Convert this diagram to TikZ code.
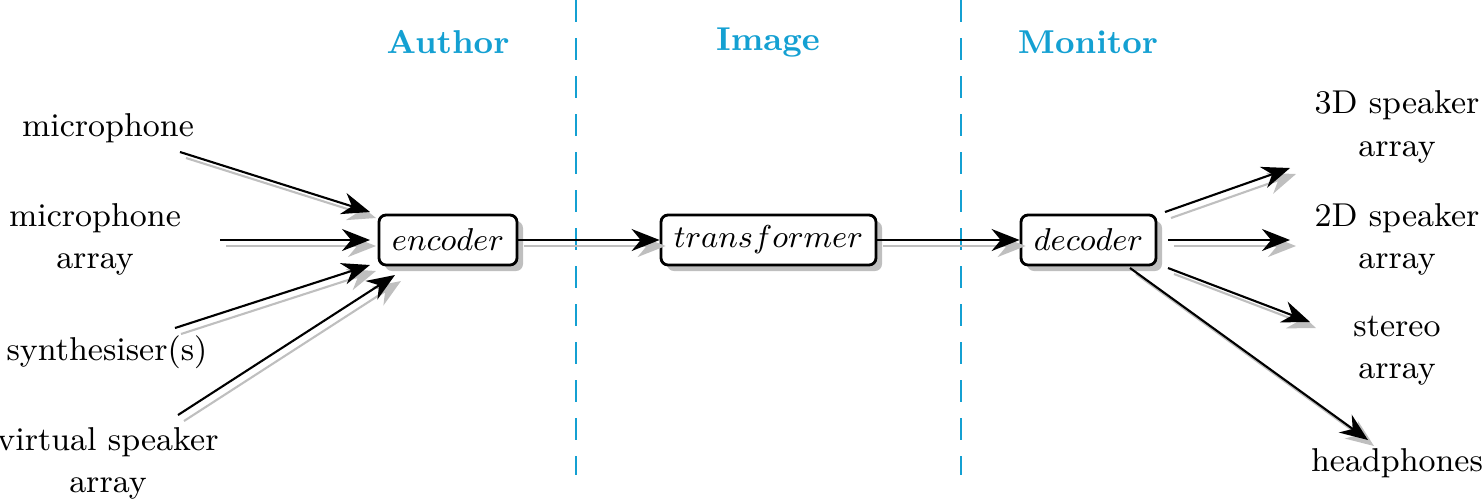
\documentclass[tikz,border=0pt]{standalone}
\usetikzlibrary{arrows.meta,shadows}
\definecolor{headcol}{RGB}{20,160,210}
\tikzset{
  every node/.style={font=\fontsize{9.4}{12}\selectfont},
  stage/.style={draw, thick, rounded corners=2pt, fill=white, minimum width=1.38cm, minimum height=0.5cm, inner sep=2pt,
    drop shadow={shadow xshift=0.6mm, shadow yshift=-0.6mm, fill=black!25, opacity=1}},
  flow/.style={-{Stealth[length=2.8mm,width=2.2mm]}, semithick,
    preaction={draw, black!25, semithick, transform canvas={shift={(0.6mm,-0.6mm)}}}},
  divider/.style={headcol, thick, dash pattern=on 2.2mm off 1.6mm},
  head/.style={headcol, font=\fontsize{9.4}{12}\selectfont\bfseries}
}
\begin{document}
\begin{tikzpicture}
  \useasboundingbox (0,0) rectangle (14.84,5.01);
  \draw[divider] (5.76,5.01) -- (5.76,0.26);
  \draw[divider] (9.61,5.01) -- (9.61,0.26);
  \node[head] at (4.48,4.59) {Author};
  \node[head] at (7.68,4.59) {Image};
  \node[head] at (10.88,4.59) {Monitor};
  % blocks
  \node[stage] (enc) at (4.48,2.61) {$encoder$};
  \node[stage, minimum width=2.15cm] (tra) at (7.685,2.61) {$transformer$};
  \node[stage, minimum width=1.35cm] (dec) at (10.885,2.61) {$decoder$};
  % sources
  \node (mic) at (1.08,3.73) {microphone};
  \node[align=center] (arr) at (0.95,2.62) {microphone\\array};
  \node (syn) at (1.07,1.49) {synthesiser(s)};
  \node[align=center] (vsa) at (1.08,0.38) {virtual speaker\\array};
  \coordinate (mic s) at (1.80,3.49);
  \coordinate (arr s) at (2.20,2.61);
  \coordinate (syn s) at (1.75,1.73);
  \coordinate (vsa s) at (1.78,0.86);
  \draw[flow] (mic s) -- (3.70,2.89);
  \draw[flow] (arr s) -- (3.70,2.61);
  \draw[flow] (syn s) -- (3.70,2.36);
  \draw[flow] (vsa s) -- (3.95,2.26);
  % chain
  \draw[flow] (enc) -- (tra);
  \draw[flow] (tra) -- (dec);
  % outputs
  \node[align=center] (sp3) at (13.97,3.74) {3D speaker\\array};
  \node[align=center] (sp2) at (13.97,2.62) {2D speaker\\array};
  \node[align=center] (ste) at (13.97,1.50) {stereo\\array};
  \node (hph) at (13.97,0.38) {headphones};
  \draw[flow] (11.65,2.89) -- (12.90,3.33);
  \draw[flow] (11.68,2.61) -- (12.90,2.61);
  \draw[flow] (11.68,2.33) -- (13.10,1.79);
  \draw[flow] (11.30,2.33) -- (13.68,0.61);
\end{tikzpicture}
\end{document}
